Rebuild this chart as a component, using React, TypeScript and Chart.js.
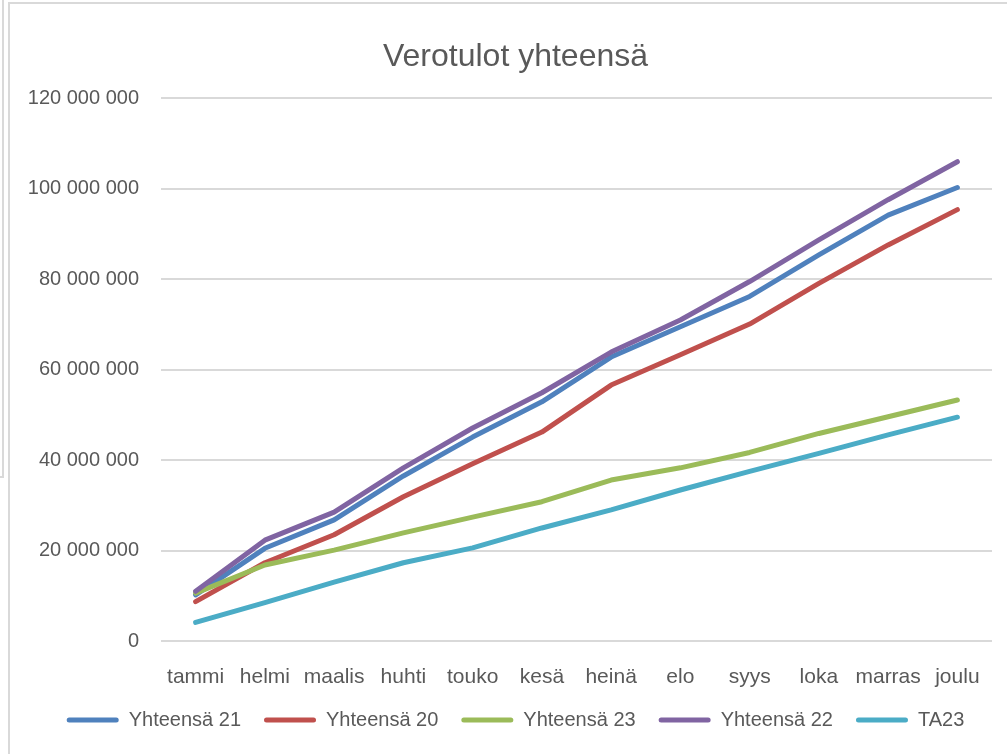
import React, { useEffect, useRef } from "react";
import { Chart, registerables } from "chart.js";

Chart.register(...registerables);

const months = ["tammi", "helmi", "maalis", "huhti", "touko", "kesä", "heinä", "elo", "syys", "loka", "marras", "joulu"];

const yhteensa21 = [10.2e6, 20.5e6, 26.8e6, 36.5e6, 45.1e6, 52.9e6, 62.8e6, 69.5e6, 76.2e6, 85.4e6, 94.2e6, 100.3e6];
const yhteensa20 = [8.7e6, 17.3e6, 23.5e6, 31.9e6, 39.2e6, 46.2e6, 56.6e6, 63.3e6, 70.1e6, 79.1e6, 87.6e6, 95.4e6];
const yhteensa23 = [10.6e6, 16.8e6, 20.1e6, 23.9e6, 27.4e6, 30.8e6, 35.6e6, 38.3e6, 41.7e6, 45.9e6, 49.6e6, 53.3e6];
const yhteensa22 = [11.0e6, 22.3e6, 28.5e6, 38.3e6, 47.1e6, 54.9e6, 63.9e6, 71.0e6, 79.5e6, 88.7e6, 97.6e6, 106.0e6];
const ta23 = [4.1e6, 8.5e6, 13.0e6, 17.3e6, 20.6e6, 25.0e6, 29.0e6, 33.4e6, 37.5e6, 41.5e6, 45.6e6, 49.5e6];

const seriesNames = ["Yhteensä 21", "Yhteensä 20", "Yhteensä 23", "Yhteensä 22", "TA23"];
const seriesColors = ["#4F81BD", "#C0504D", "#9BBB59", "#8064A2", "#4BACC6"];
const seriesOrder = [4, 3, 2, 1, 0];

const yMin = 0;
const yMax = 120000000;
const yStep = 20000000;

const FONT = "'Liberation Sans', Arial, sans-serif";
const TEXT = "#595959";

const fmt = (v: number) => String(Math.round(v)).replace(/\B(?=(\d{3})+(?!\d))/g, " ");

const bordersPlugin = {
  id: "borders",
  beforeDraw(chart: any) {
    const ctx = chart.ctx;
    ctx.save();
    ctx.strokeStyle = "#d9d9d9";
    ctx.lineWidth = 2;
    ctx.beginPath();
    ctx.moveTo(3, 0);
    ctx.lineTo(3, 477);
    ctx.lineTo(0, 477);
    ctx.moveTo(9, 754);
    ctx.lineTo(9, 3);
    ctx.lineTo(1007, 3);
    ctx.stroke();
    ctx.restore();
  },
};

export default function App() {
  const ref = useRef<HTMLCanvasElement>(null);
  useEffect(() => {
    document.body.style.margin = "0";
    const data = [yhteensa21, yhteensa20, yhteensa23, yhteensa22, ta23];
    const chart = new Chart(ref.current!, {
      type: "line",
      data: {
        labels: months,
        datasets: data.map((d, i) => ({
          label: seriesNames[i],
          data: d,
          borderColor: seriesColors[i],
          backgroundColor: seriesColors[i],
          borderWidth: 5,
          borderCapStyle: "round" as const,
          borderJoinStyle: "round" as const,
          pointRadius: 0,
          tension: 0,
          order: seriesOrder[i],
          yAxisID: "y",
        })),
      },
      options: {
        responsive: false,
        animation: false,
        layout: { padding: { left: 24, right: 0, top: 0, bottom: 14 } },
        plugins: {
          title: {
            display: true,
            text: "Verotulot yhteensä",
            color: TEXT,
            font: { family: FONT, size: 32, weight: "normal" },
            padding: { top: 38, bottom: 22 },
          },
          legend: {
            position: "bottom",
            labels: {
              color: TEXT,
              font: { family: FONT, size: 20 },
              boxWidth: 52,
              boxHeight: 5,
              padding: 23,
              generateLabels: (c: any) =>
                Chart.defaults.plugins.legend.labels
                  .generateLabels(c)
                  .map((l: any) => ({ ...l, lineWidth: 0, borderRadius: 2.5 }))
                  .sort((a: any, b: any) => a.datasetIndex - b.datasetIndex),
            },
          },
          tooltip: { enabled: false },
        },
        scales: {
          x: {
            offset: true,
            grid: { display: false },
            border: { display: false },
            ticks: {
              color: TEXT,
              font: { family: FONT, size: 21 },
              padding: 16,
              maxRotation: 0,
              autoSkip: false,
            },
            afterFit: (s: any) => {
              s.height = 46;
            },
          },
          y: {
            position: "left",
            min: yMin,
            max: yMax,
            grid: { color: "#d9d9d9", lineWidth: 2, drawTicks: false },
            border: { display: false },
            ticks: {
              stepSize: yStep,
              color: TEXT,
              font: { family: FONT, size: 20 },
              padding: 22,
              callback: (v: any) => fmt(Number(v)),
            },
            afterFit: (s: any) => {
              s.width = 137;
            },
          },
          y2: {
            position: "right",
            display: true,
            grid: { display: false, drawTicks: false },
            border: { display: false },
            ticks: { display: false },
            afterFit: (s: any) => {
              s.width = 15;
            },
          },
        },
      },
      plugins: [bordersPlugin],
    });
    return () => chart.destroy();
  }, []);
  return (
    <div style={{ position: "absolute", left: 0, top: 0, width: 1007, height: 754 }}>
      <canvas ref={ref} width={1007} height={754} style={{ width: 1007, height: 754, display: "block" }} />
    </div>
  );
}
